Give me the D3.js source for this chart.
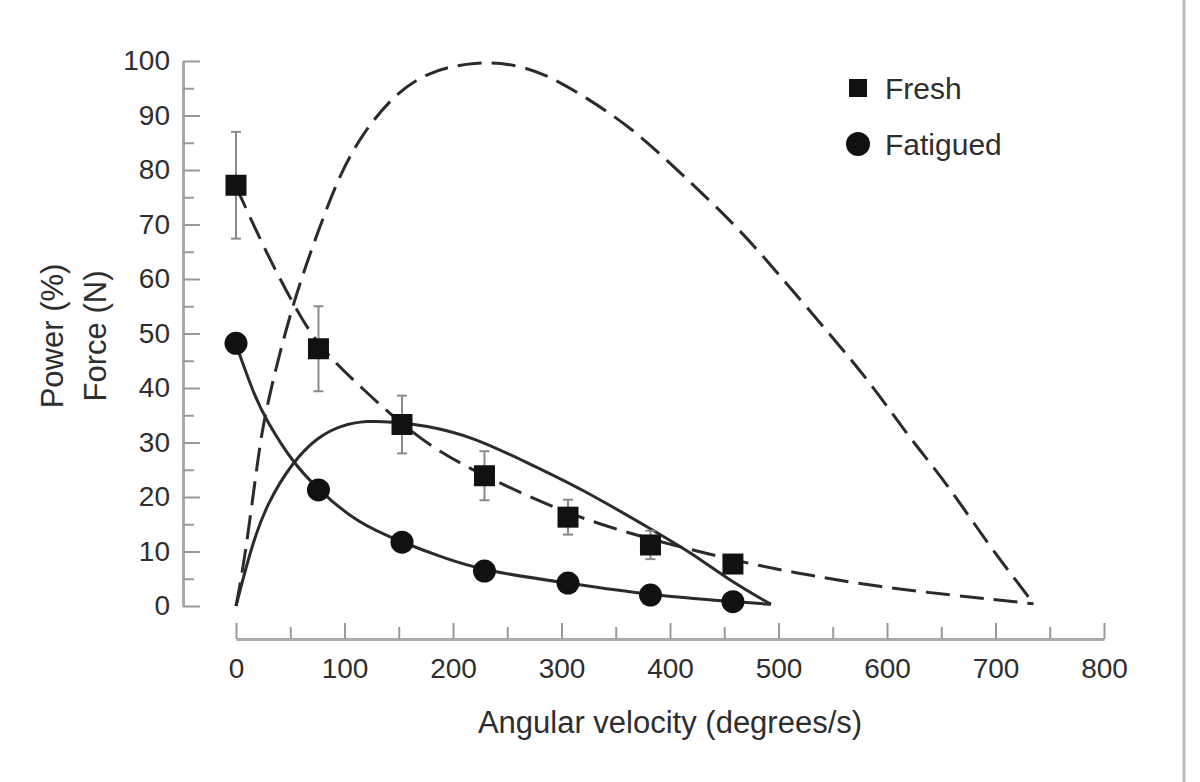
<!DOCTYPE html>
<html>
<head>
<meta charset="utf-8">
<script src="https://cdn.jsdelivr.net/npm/d3@7"></script>
<style>
  body { margin: 0; background: #fff; }
  text { font-family: "Liberation Sans", Arial, sans-serif; fill: #2e2e2e; }
</style>
</head>
<body>
<script>
// measured points (angular velocity, deg/s)
const velocity = [0, 76, 153, 229, 306, 382, 458];
const freshForce = [77.2, 47.2, 33.3, 23.9, 16.3, 11.2, 7.7];
const freshSD = [9.8, 7.8, 5.3, 4.5, 3.2, 2.6, 0.6];
const fatiguedForce = [48.2, 21.3, 11.7, 6.4, 4.2, 2.0, 0.8];

// fitted curves, [velocity, value]
const freshForceFit = [[0, 77], [25, 66], [52, 55.6], [76, 47.5], [118, 39.6], [153, 33.3], [189, 28],
  [229, 23.9], [305, 16.8], [382, 12.2], [458, 8.4], [512, 6.2], [591, 3.5], [683, 1.5], [735, 0.4]];
const freshPowerFit = [[0, 0], [8, 8.4], [20, 26.8], [27, 36], [52, 55.6], [77, 69.5], [96, 79.4],
  [117, 86.8], [144, 93.4], [175, 98], [221, 100], [261, 99.3], [291, 97], [322, 93.4], [365, 87.7],
  [408, 79.8], [463, 69.4], [500, 60.9], [548, 49.7], [585, 40.9], [622, 30.5], [653, 23.1],
  [695, 10.8], [726, 2.9], [735, 0.4]];
const fatiguedForceFit = [[0, 48], [17, 38.5], [28, 34.1], [52, 26.4], [76, 21.3], [112, 15.2],
  [153, 11.7], [189, 9.0], [229, 6.4], [306, 4.2], [382, 2.0], [458, 0.8], [493, 0.3]];
const fatiguedPowerFit = [[0, 0], [15, 11.5], [29, 18.9], [52, 26.4], [75, 31], [97, 33.2], [121, 34],
  [143, 33.8], [174, 33.2], [219, 31.0], [265, 26.6], [316, 21.8], [387, 13.6], [420, 9.7],
  [454, 4.8], [493, 0.3]];

const xTicks = d3.range(0, 801, 50);
const yTicks = d3.range(0, 101, 5);
const legendLabels = ["Fresh", "Fatigued"];

init();

function init() {
  let svg = d3.select("body")
              .append("svg")
              .attr("width", 1200)
              .attr("height", 782);

  let x = d3.scaleLinear().domain([0, 800]).range([236, 1104]),
      y = d3.scaleLinear().domain([0, 100]).range([606, 61]),
      xAxisY = 639,
      yAxisX = 183;

  // right edge rule
  svg.append("line")
     .attr("x1", 1184).attr("x2", 1184)
     .attr("y1", 0).attr("y2", 782)
     .style("stroke", "#bbb").style("stroke-width", 3);

  // x axis, ticks pointing up
  let gx = svg.append("g")
              .attr("transform", `translate(0,${xAxisY})`)
              .call(d3.axisBottom(x).tickValues(xTicks).tickSize(-16).tickSizeOuter(0).tickPadding(14)
                      .tickFormat(d => d % 100 === 0 ? d : ""));
  styleAxis(gx);
  gx.selectAll(".tick").filter(d => d % 100 !== 0).select("line").attr("y2", -12);
  gx.selectAll(".tick text").attr("dy", "0.9em");

  // y axis, ticks pointing right
  let gy = svg.append("g")
              .attr("transform", `translate(${yAxisX},0)`)
              .call(d3.axisLeft(y).tickValues(yTicks).tickSize(-17).tickSizeOuter(0).tickPadding(13)
                      .tickFormat(d => d % 10 === 0 ? d : ""));
  styleAxis(gy);
  gy.selectAll(".tick").filter(d => d % 10 !== 0).select("line").attr("x2", 11);

  // axis titles
  svg.append("text")
     .attr("x", 670).attr("y", 733)
     .style("text-anchor", "middle").style("font-size", "31px")
     .text("Angular velocity (degrees/s)");
  svg.append("text")
     .attr("transform", "translate(63,336) rotate(-90)")
     .style("text-anchor", "middle").style("font-size", "31px")
     .text("Power (%)");
  svg.append("text")
     .attr("transform", "translate(106,336) rotate(-90)")
     .style("text-anchor", "middle").style("font-size", "31px")
     .text("Force (N)");

  // curves
  let line = d3.line()
               .x(d => x(d[0]))
               .y(d => y(d[1]))
               .curve(d3.curveBasis);

  [[freshPowerFit, "24,10"], [freshForceFit, "24,10"], [fatiguedPowerFit, null], [fatiguedForceFit, null]]
    .forEach(([data, dash]) => {
      svg.append("path")
         .datum(data)
         .attr("d", line)
         .style("fill", "none")
         .style("stroke", "#2b2b2b")
         .style("stroke-width", 3)
         .style("stroke-dasharray", dash);
    });

  // error bars (fresh)
  let eb = svg.append("g").style("stroke", "#8a8a8a").style("stroke-width", 2);
  velocity.forEach((v, i) => {
    let top = y(freshForce[i] + freshSD[i]),
        bot = y(freshForce[i] - freshSD[i]);
    eb.append("line").attr("x1", x(v)).attr("x2", x(v)).attr("y1", top).attr("y2", bot);
    eb.append("line").attr("x1", x(v) - 5).attr("x2", x(v) + 5).attr("y1", top).attr("y2", top);
    eb.append("line").attr("x1", x(v) - 5).attr("x2", x(v) + 5).attr("y1", bot).attr("y2", bot);
  });

  // markers
  svg.selectAll(".sq")
     .data(velocity)
     .enter().append("rect")
     .attr("class", "sq")
     .attr("x", d => x(d) - 10.5)
     .attr("y", (d, i) => y(freshForce[i]) - 10.5)
     .attr("width", 21).attr("height", 21)
     .style("fill", "#111");

  svg.selectAll(".dot")
     .data(velocity)
     .enter().append("circle")
     .attr("class", "dot")
     .attr("cx", d => x(d))
     .attr("cy", (d, i) => y(fatiguedForce[i]))
     .attr("r", 11.5)
     .style("fill", "#111");

  // legend
  let lg = svg.append("g");
  lg.append("rect").attr("x", 849).attr("y", 79).attr("width", 18).attr("height", 18).style("fill", "#111");
  lg.append("circle").attr("cx", 858).attr("cy", 144).attr("r", 12).style("fill", "#111");
  legendLabels.forEach((t, i) => {
    lg.append("text")
      .attr("x", 885).attr("y", 88 + i * 56)
      .attr("dy", "0.35em")
      .style("font-size", "30px")
      .text(t);
  });

  function styleAxis(g) {
    g.select(".domain").style("stroke", "#aaa").style("stroke-width", 3);
    g.selectAll(".tick line").style("stroke", "#999").style("stroke-width", 2);
    g.selectAll(".tick text").style("font-size", "28px").style("fill", "#2e2e2e")
     .style("font-family", "'Liberation Sans', Arial, sans-serif");
  }
}
</script>
</body>
</html>
